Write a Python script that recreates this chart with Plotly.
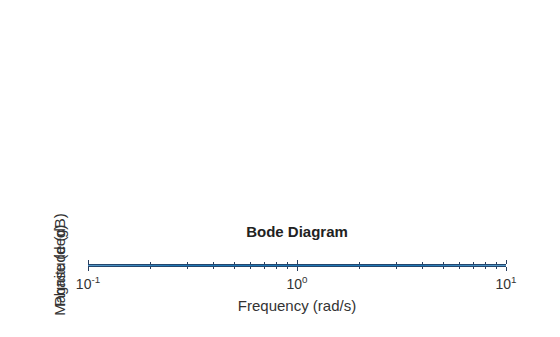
import plotly.graph_objects as go

freq = [0.1, 0.2, 0.3, 0.5, 0.7, 1.0, 1.5, 2.0, 3.0, 5.0, 7.0, 10.0]
magnitude_db = [-0.04, -0.17, -0.37, -0.97, -1.7, -3.01, -5.12, -6.99, -10.0, -14.15, -17.0, -20.04]
phase_deg = [-5.7, -11.3, -16.7, -26.6, -35.0, -45.0, -56.3, -63.4, -71.6, -78.7, -81.9, -84.3]
tick_vals = [0.1, 1, 10]
tick_text = ["10<sup>-1</sup>", "10<sup>0</sup>", "10<sup>1</sup>"]

fig = go.Figure()
fig.add_trace(go.Scatter(x=freq, y=magnitude_db, xaxis="x", yaxis="y", mode="lines",
                         line=dict(color="#1f77b4", width=1.5), showlegend=False))
fig.add_trace(go.Scatter(x=freq, y=phase_deg, xaxis="x", yaxis="y2", mode="lines",
                         line=dict(color="#1f77b4", width=1.5), showlegend=False))

font = dict(family="Liberation Sans, Arial, sans-serif", size=14, color="#333333")
fig.update_layout(
    width=560, height=337,
    margin=dict(l=88, r=54, t=265, b=71),
    paper_bgcolor="white", plot_bgcolor="white",
    font=font,
    title=dict(text="<b>Bode Diagram</b>", x=0.5, xref="paper", y=1 - 232 / 337,
               yanchor="middle", xanchor="center", font=dict(size=15, color="#222222")),
    xaxis=dict(type="log", range=[-1, 1], anchor="y2", tickvals=tick_vals, ticktext=tick_text,
               showgrid=False, zeroline=False, showline=True, linecolor="#24476e", linewidth=1,
               ticks="outside", ticklen=4, tickcolor="#2a3f5f", mirror="ticks",
               ticklabelstandoff=1,
               minor=dict(ticks="outside", ticklen=2, tickcolor="#2a3f5f", showgrid=False,
                          tickvals=[0.2, 0.3, 0.4, 0.5, 0.6, 0.7, 0.8, 0.9, 2, 3, 4, 5, 6, 7, 8, 9]),
               title=dict(text="Frequency (rad/s)", font=dict(size=15), standoff=9),
               tickfont=dict(size=14)),
    yaxis=dict(domain=[0.5, 1], showticklabels=False, showgrid=False, zeroline=False,
               showline=False, ticks="", title=dict(text="Magnitude (dB)", font=dict(size=15), standoff=17)),
    yaxis2=dict(domain=[0, 0.5], showticklabels=False, showgrid=False, zeroline=False,
                showline=False, ticks="", title=dict(text="Phase (deg)", font=dict(size=15), standoff=17)),
)

fig.write_html("out.html")
